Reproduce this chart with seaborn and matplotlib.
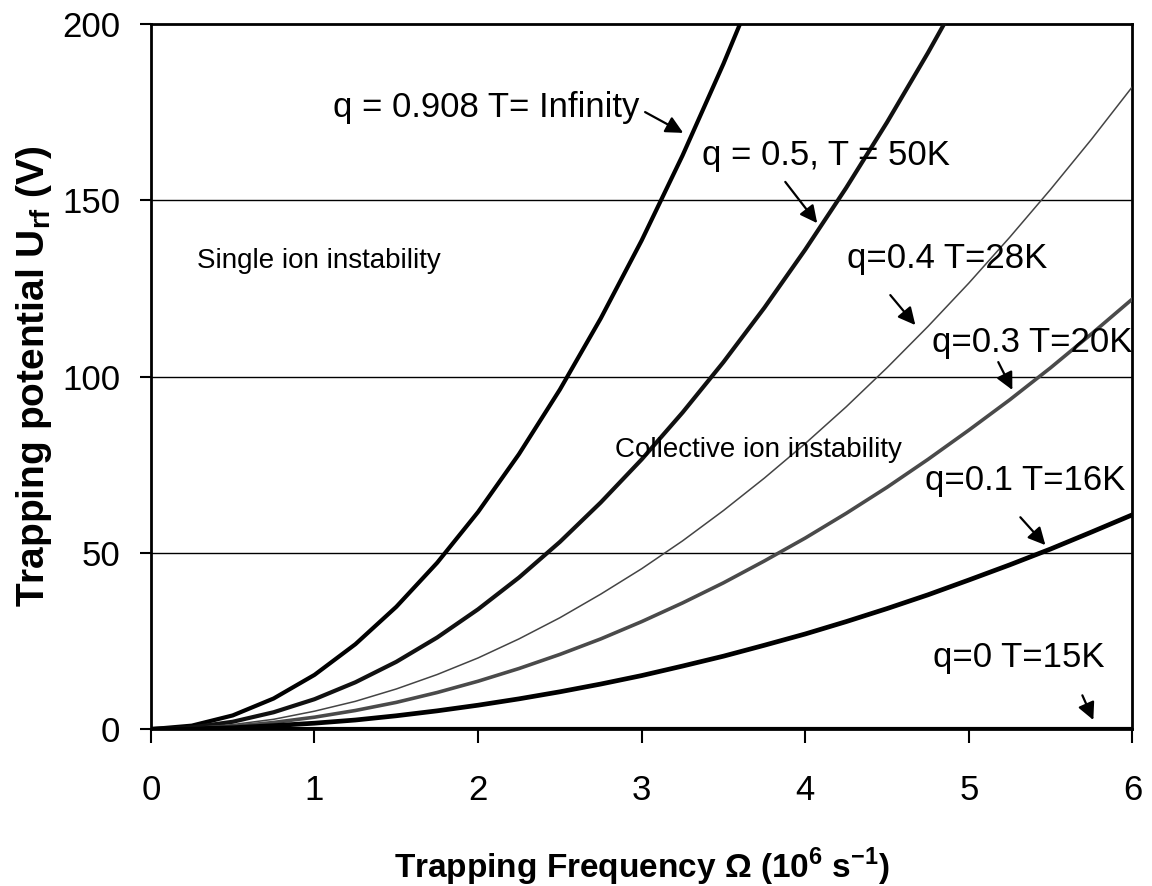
import numpy as np
import pandas as pd
import matplotlib
matplotlib.use("Agg")
import matplotlib.pyplot as plt
import seaborn as sns

# Trapping frequency grid (10^6 s^-1)
omega = [0, 0.25, 0.5, 0.75, 1, 1.25, 1.5, 1.75, 2, 2.25, 2.5, 2.75, 3,
         3.25, 3.5, 3.75, 4, 4.25, 4.5, 4.75, 5, 5.25, 5.5, 5.75, 6]

# Trapping potential U_rf (V) for each stability condition
u_q0908 = [0, 1.0, 3.9, 8.7, 15.4, 24.1, 34.7, 47.2, 61.6, 78.0, 96.3, 116.5,
           138.6, 162.7, 188.7, 216.6]
u_q05 = [0, 0.5, 2.1, 4.8, 8.5, 13.3, 19.1, 26.0, 34.0, 43.0, 53.1, 64.3, 76.5,
         89.8, 104.1, 119.5, 136.0, 153.5, 172.1, 191.8, 212.5]
u_q04 = [0, 0.3, 1.3, 2.8, 5.1, 7.9, 11.4, 15.5, 20.2, 25.6, 31.6, 38.3, 45.5,
         53.4, 62.0, 71.2, 81.0, 91.4, 102.5, 114.2, 126.5, 139.5, 153.1, 167.3, 182.2]
u_q03 = [0, 0.2, 0.8, 1.9, 3.4, 5.3, 7.6, 10.4, 13.6, 17.2, 21.2, 25.6, 30.5,
         35.8, 41.5, 47.7, 54.2, 61.2, 68.6, 76.5, 84.8, 93.4, 102.5, 112.1, 122.0]
u_q01 = [0, 0.1, 0.4, 1.0, 1.7, 2.6, 3.8, 5.2, 6.8, 8.6, 10.6, 12.8, 15.2,
         17.9, 20.7, 23.8, 27.0, 30.5, 34.2, 38.1, 42.3, 46.6, 51.1, 55.9, 60.8]
u_q0 = [0] * len(omega)

series_labels = ["q = 0.908 T= Infinity", "q = 0.5, T = 50K", "q=0.4 T=28K",
                 "q=0.3 T=20K", "q=0.1 T=16K", "q=0 T=15K"]
series_values = [u_q0908, u_q05, u_q04, u_q03, u_q01, u_q0]

rows = []
for name, vals in zip(series_labels, series_values):
    for x, y in zip(omega, vals):
        rows.append({"omega": x, "U": y, "series": name})
df = pd.DataFrame(rows)

sns.set_style("white", rc={"text.color": "black", "axes.labelcolor": "black",
                           "xtick.color": "black", "ytick.color": "black"})
plt.rcParams["font.family"] = ["Liberation Sans", "DejaVu Sans"]
plt.rcParams["mathtext.fontset"] = "custom"
plt.rcParams["mathtext.rm"] = "Liberation Sans"
plt.rcParams["mathtext.bf"] = "Liberation Sans:bold"
plt.rcParams["lines.solid_joinstyle"] = "round"
plt.rcParams["lines.solid_capstyle"] = "round"

fig = plt.figure(figsize=(11.52, 8.86), dpi=100)
ax = fig.add_axes([0.131, 0.177, 0.852, 0.796])

line_styles = {
    "q = 0.908 T= Infinity": dict(color="black", lw=3.0),
    "q = 0.5, T = 50K": dict(color="#111111", lw=3.0),
    "q=0.4 T=28K": dict(color="#444444", lw=1.1),
    "q=0.3 T=20K": dict(color="#4a4a4a", lw=2.6),
    "q=0.1 T=16K": dict(color="black", lw=3.4),
    "q=0 T=15K": dict(color="black", lw=3.0),
}

for name in series_labels:
    sub = df[df["series"] == name]
    st = line_styles[name]
    sns.lineplot(data=sub, x="omega", y="U", ax=ax, color=st["color"],
                 linewidth=st["lw"], legend=False, zorder=3)

ax.set_xlim(0, 6)
ax.set_ylim(0, 200)
ax.set_xticks([0, 1, 2, 3, 4, 5, 6])
ax.set_yticks([0, 50, 100, 150, 200])
for yv in [50, 100, 150]:
    ax.axhline(yv, color="black", lw=1.0, zorder=1)

for sp in ax.spines.values():
    sp.set_visible(True)
    sp.set_color("black")
    sp.set_linewidth(2.0)

ax.tick_params(axis="x", direction="out", length=10, width=1.5,
               labelsize=25, pad=22, bottom=True)
ax.tick_params(axis="y", direction="out", length=8, width=1.5,
               labelsize=25, pad=14, left=True)

ax.set_xlabel(r"Trapping Frequency Ω (10$^{\mathbf{6}}$ s$^{\mathbf{-1}}$)",
              fontsize=24, fontweight="bold", labelpad=28)
ax.set_ylabel(r"Trapping potential U$_{\mathbf{rf}}$ (V)",
              fontsize=28, fontweight="bold", labelpad=6)

# Curve labels with arrows
label_fs = 25
notes = [
    ("q = 0.908 T= Infinity", (1.113, 173.6), (3.021, 175.0), (3.254, 169.1)),
    ("q = 0.5, T = 50K", (3.370, 160.0), (3.878, 155.2), (4.073, 143.5)),
    ("q=0.4 T=28K", (4.257, 130.8), (4.520, 123.1), (4.673, 114.6)),
    ("q=0.3 T=20K", (4.777, 106.9), (5.180, 104.1), (5.266, 96.2)),
    ("q=0.1 T=16K", (4.734, 67.8), (5.315, 60.1), (5.468, 52.2)),
    ("q=0 T=15K", (4.783, 17.6), (5.694, 9.6), (5.761, 2.6)),
]
for text, tpos, tail, head in notes:
    ax.text(tpos[0], tpos[1], text, fontsize=label_fs, ha="left",
            va="baseline", zorder=5)
    ax.annotate("", xy=head, xytext=tail,
                arrowprops=dict(arrowstyle="-|>", color="black", lw=1.6,
                                mutation_scale=26, shrinkA=0, shrinkB=0),
                zorder=5)

ax.text(0.281, 130.8, "Single ion instability", fontsize=20, ha="left",
        va="baseline")
ax.text(2.838, 77.2, "Collective ion instability", fontsize=20, ha="left",
        va="baseline", zorder=5)

fig.savefig("out.png", dpi=100, facecolor="white")
